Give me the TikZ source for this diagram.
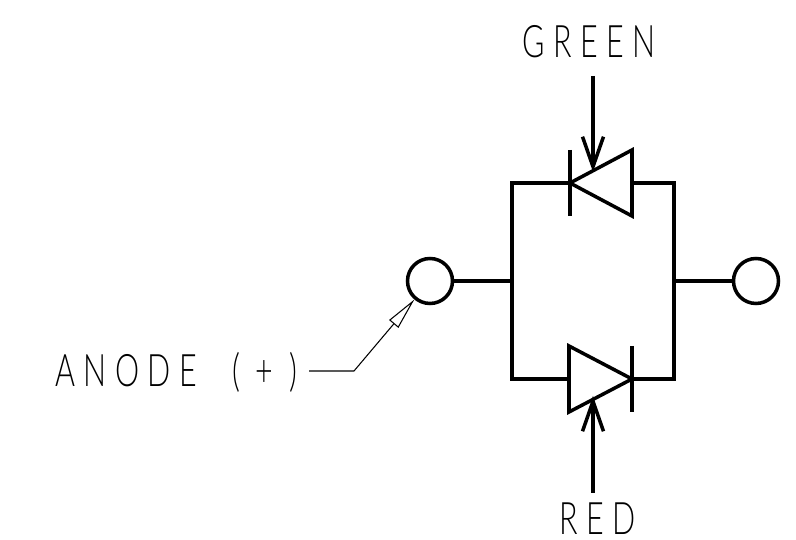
\documentclass[tikz,border=0pt]{standalone}
\usepackage{fontspec}
\usepackage{xcolor}
\usepackage{tikz}
\usetikzlibrary{arrows.meta,positioning,calc}
\newfontfamily\cadfont[LetterSpace=19,FakeStretch=0.68]{Lato Light}

\begin{document}
\begin{tikzpicture}[x=0.02cm,y=-0.02cm,
    wire/.style={line width=2pt,line join=miter},
    pin/.style={circle,draw,line width=2pt,minimum size=0.9cm,inner sep=0pt},
    caption/.style={inner sep=0pt,font=\cadfont\fontsize{25.5}{25.5}\selectfont},
    gatearrow/.style={wire,-{Straight Barb[length=0.6cm,width=0.42cm,line width=2pt]}},
    leader/.style={line width=0.6pt,-{Triangle[open,length=0.64cm,width=0.24cm,line width=0.6pt]}}]
    \useasboundingbox (0,0) rectangle (796,540);

    \node (anodepin) [pin] at (430,281) {};
    \node (cathodepin) [pin] at (756,281) {};
    \coordinate (leftbus) at (512,281);
    \coordinate (rightbus) at (674,281);
    \coordinate (topleft) at (512,183);
    \coordinate (topright) at (674,183);
    \coordinate (botleft) at (512,379);
    \coordinate (botright) at (674,379);

    % green led
    \coordinate (greenk) at (570,183);
    \coordinate (greena) at (632,183);
    \coordinate (greentip) at (593,172);
    \coordinate (greenend) at (593,76);
    % red led
    \coordinate (reda) at (569,379);
    \coordinate (redk) at (632,379);
    \coordinate (redtip) at (593,396);
    \coordinate (redend) at (593,493);

    \draw [wire] (anodepin) -- (leftbus);
    \draw [wire] (cathodepin) -- (rightbus);
    \draw [wire] (greenk) -- (topleft) -- (botleft) -- (reda);
    \draw [wire] (greena) -- (topright) -- (botright) -- (redk);

    \draw [wire] ($(greenk)+(0,-33)$) -- ($(greenk)+(0,33)$);
    \draw [wire] (greenk) -- ($(greena)+(0,-33)$) -- ($(greena)+(0,33)$) -- cycle;
    \draw [wire] ($(redk)+(0,-33)$) -- ($(redk)+(0,33)$);
    \draw [wire] (redk) -- ($(reda)+(0,-33)$) -- ($(reda)+(0,33)$) -- cycle;

    \draw [gatearrow] (greenend) -- (greentip);
    \draw [gatearrow] (redend) -- (redtip);

    \node (greenlabel) [caption,anchor=base west] at (522,58) {GREEN};
    \node (redlabel) [caption,anchor=base west] at (559,535) {RED};
    \node (anodelabel) [caption,anchor=base west] at (55,387) {ANODE\hspace{0.7cm}(\hspace{9pt}+\hspace{9pt})};

    \coordinate (leaderbend) at (354,371);
    \draw [leader] (309,371) -- (leaderbend) -- (anodepin);
\end{tikzpicture}
\end{document}
